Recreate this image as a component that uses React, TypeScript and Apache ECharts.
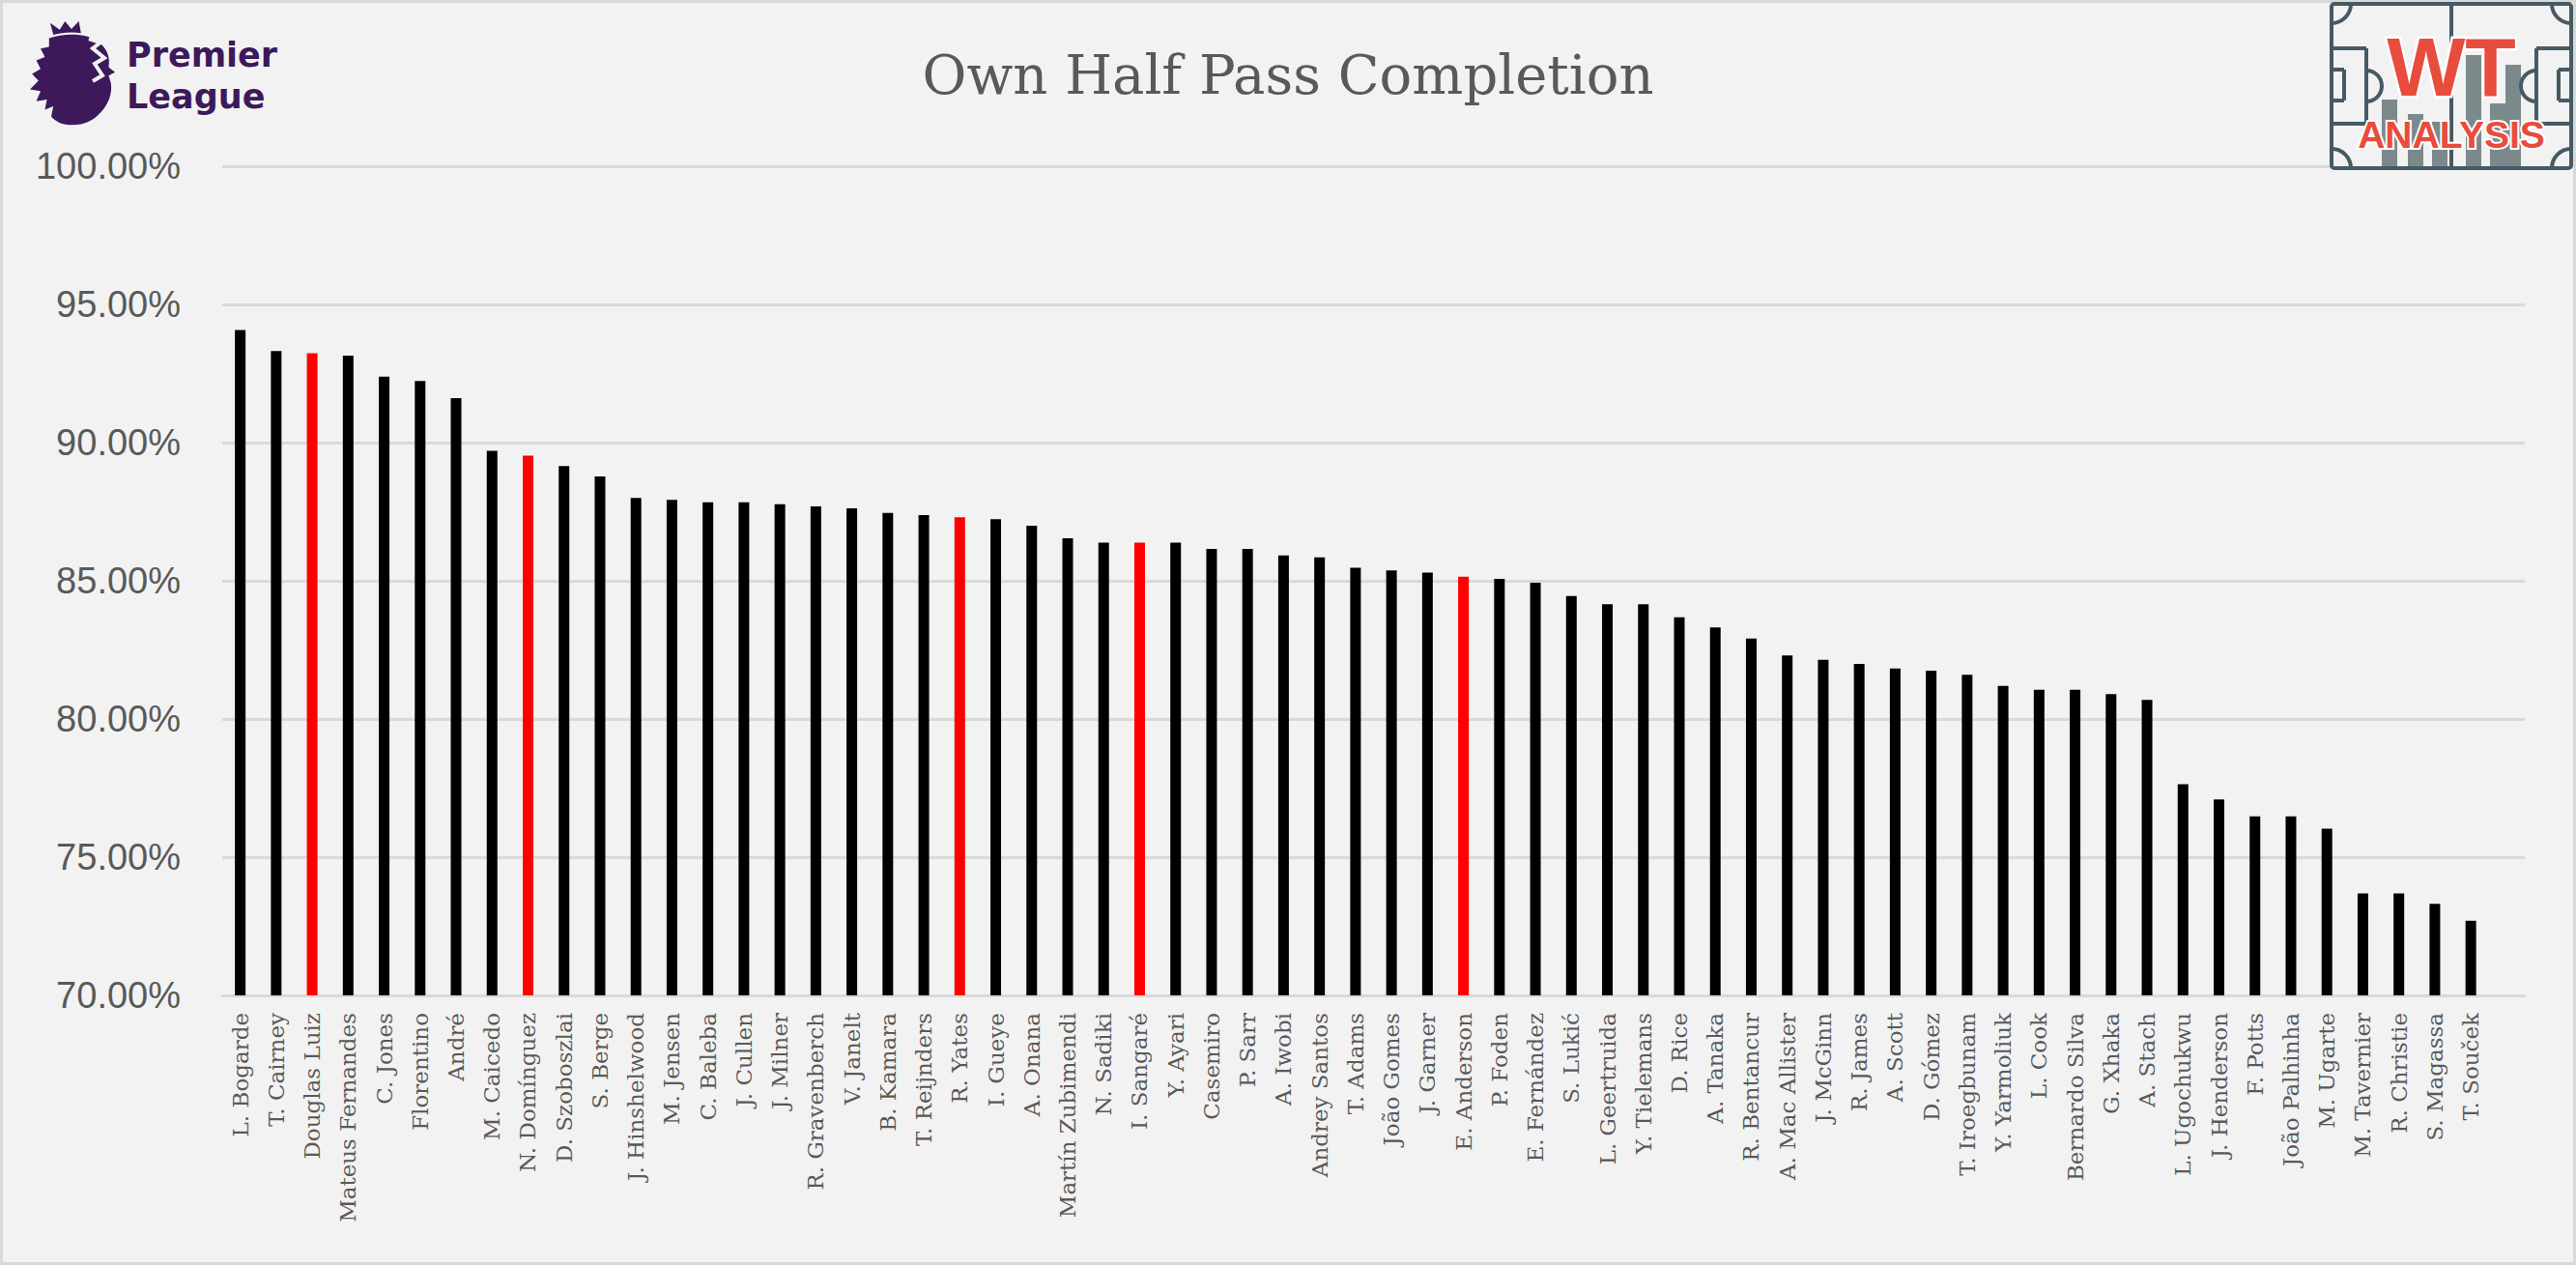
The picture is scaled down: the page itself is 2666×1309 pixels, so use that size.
import { useEffect, useRef } from 'react';
import * as echarts from 'echarts';

// players, sorted as in the picture
const players = [
    'L. Bogarde', 'T. Cairney', 'Douglas Luiz', 'Mateus Fernandes', 'C. Jones', 'Florentino', 'André',
    'M. Caicedo', 'N. Domínguez', 'D. Szoboszlai', 'S. Berge', 'J. Hinshelwood', 'M. Jensen', 'C. Baleba',
    'J. Cullen', 'J. Milner', 'R. Gravenberch', 'V. Janelt', 'B. Kamara', 'T. Reijnders', 'R. Yates',
    'I. Gueye', 'A. Onana', 'Martín Zubimendi', 'N. Sadiki', 'I. Sangaré', 'Y. Ayari', 'Casemiro',
    'P. Sarr', 'A. Iwobi', 'Andrey Santos', 'T. Adams', 'João Gomes', 'J. Garner', 'E. Anderson',
    'P. Foden', 'E. Fernández', 'S. Lukić', 'L. Geertruida', 'Y. Tielemans', 'D. Rice', 'A. Tanaka',
    'R. Bentancur', 'A. Mac Allister', 'J. McGinn', 'R. James', 'A. Scott', 'D. Gómez', 'T. Iroegbunam',
    'Y. Yarmoliuk', 'L. Cook', 'Bernardo Silva', 'G. Xhaka', 'A. Stach', 'L. Ugochukwu', 'J. Henderson',
    'F. Potts', 'João Palhinha', 'M. Ugarte', 'M. Tavernier', 'R. Christie', 'S. Magassa', 'T. Souček',
];

// own half pass completion, %
const completion = [
    94.07, 93.31, 93.23, 93.15, 92.39, 92.23, 91.61,
    89.70, 89.53, 89.15, 88.78, 88.00, 87.93, 87.84,
    87.84, 87.77, 87.69, 87.62, 87.46, 87.38, 87.30,
    87.23, 86.99, 86.54, 86.38, 86.38, 86.38, 86.15,
    86.15, 85.92, 85.85, 85.47, 85.38, 85.30, 85.15,
    85.07, 84.93, 84.45, 84.15, 84.15, 83.68, 83.31,
    82.91, 82.30, 82.14, 81.99, 81.83, 81.75, 81.60,
    81.20, 81.06, 81.06, 80.90, 80.69, 77.64, 77.09,
    76.48, 76.48, 76.03, 73.69, 73.69, 73.31, 72.70,
];

const highlighted = ['Douglas Luiz', 'N. Domínguez', 'R. Yates', 'I. Sangaré', 'E. Anderson'];

const yMin = 70;
const yMax = 100;
const yStep = 5;

const lionPath =
    'M18 20 C32 14 50 14 62 22 C72 30 76 42 74 54 L80 60 L74 64 L76 72 C78 84 74 98 66 108 ' +
    'C60 116 52 122 40 122 C30 122 24 118 20 112 L22 100 L14 104 L16 92 L6 94 L10 82 L0 80 ' +
    'L8 70 L2 62 L10 56 L6 46 L14 42 L10 32 L18 30 Z ' +
    'M22 16 L19 2 L28 10 L33 0 L39 9 L46 0 L48 14 C40 12 30 13 22 16 Z';

echarts.graphic.registerShape('plLion', echarts.graphic.extendPath(lionPath, {}));

const slate = '#455a64';
const wtRed = '#e84c3d';
const wtGrey = '#7b898d';

function wtLogo() {
    const x0 = 2413, y0 = 4, x1 = 2661, y1 = 174;
    const cy = (y0 + y1) / 2;
    const line = (ax: number, ay: number, bx: number, by: number) => ({
        type: 'line', shape: { x1: ax, y1: ay, x2: bx, y2: by },
        style: { stroke: slate, lineWidth: 4 }, z: 11,
    });
    const arc = (cx: number, cyy: number, r: number, a0: number, a1: number) => ({
        type: 'arc', shape: { cx, cy: cyy, r, startAngle: a0, endAngle: a1 },
        style: { stroke: slate, lineWidth: 4, fill: 'none' }, z: 11,
    });
    const bars = [
        [2465, 103], [2492, 118], [2517, 126], [2552, 57], [2577, 107], [2593, 67],
    ];
    const PI = Math.PI;
    return [
        { type: 'rect', shape: { x: x0, y: y0, width: x1 - x0, height: y1 - y0, r: 3 }, style: { fill: '#f2f2f2', stroke: slate, lineWidth: 4 }, z: 10 },
        ...bars.map(([bx, by]) => ({
            type: 'rect', shape: { x: bx, y: by, width: 16, height: y1 - by - 2 }, style: { fill: wtGrey }, z: 11,
        })),
        line(2537, y0, 2537, y1),
        // penalty boxes
        line(x0, 50, 2449, 50), line(2449, 50, 2449, 128), line(x0, 128, 2449, 128),
        line(x0, 72, 2426, 72), line(2426, 72, 2426, 104), line(x0, 104, 2426, 104),
        line(2625, 50, x1, 50), line(2625, 50, 2625, 128), line(2625, 128, x1, 128),
        line(2648, 72, x1, 72), line(2648, 72, 2648, 104), line(2648, 104, x1, 104),
        arc(2449, cy, 16, -PI / 2, PI / 2),
        arc(2625, cy, 16, PI / 2, PI * 1.5),
        // corners
        arc(x0, y0, 20, 0, PI / 2),
        arc(x1, y0, 20, PI / 2, PI),
        arc(x0, y1, 20, -PI / 2, 0),
        arc(x1, y1, 20, PI, PI * 1.5),
        {
            type: 'text', z: 12,
            style: {
                text: 'WT', x: 2537, y: 69, align: 'center', verticalAlign: 'middle',
                font: 'bold 86px "Liberation Sans"', fill: wtRed, stroke: '#ffffff', lineWidth: 5,
            },
        },
        {
            type: 'text', z: 12,
            style: {
                text: 'ANALYSIS', x: 2537, y: 139, align: 'center', verticalAlign: 'middle',
                font: 'bold 39px "Liberation Sans"', fill: wtRed, stroke: '#ffffff', lineWidth: 4,
            },
        },
    ];
}

export default function App() {
    const chartRef = useRef<HTMLDivElement>(null);

    useEffect(() => {
        document.body.style.margin = '0';
        if (!chartRef.current) return;
        const chart = echarts.init(chartRef.current, null, { renderer: 'svg' });

        const option = {
            animation: false,
            backgroundColor: '#f2f2f2',
            grid: { left: 230, right: 53, top: 172, bottom: 279, containLabel: false },
            xAxis: {
                type: 'category',
                // trailing empty slot, as in the original sheet
                data: [...players, ''],
                axisLine: { lineStyle: { color: '#d9d9d9', width: 3 } },
                axisTick: { show: false },
                axisLabel: {
                    interval: 0,
                    rotate: 90,
                    margin: 18,
                    color: '#595959',
                    fontFamily: 'DejaVu Serif',
                    fontSize: 23,
                },
            },
            yAxis: {
                type: 'value',
                min: yMin,
                max: yMax,
                interval: yStep,
                axisLine: { show: false },
                axisTick: { show: false },
                splitLine: { lineStyle: { color: '#d9d9d9', width: 3 } },
                axisLabel: {
                    margin: 43,
                    color: '#595959',
                    fontFamily: 'Liberation Sans',
                    fontSize: 38,
                    formatter: (v: number) => v.toFixed(2) + '%',
                },
            },
            series: [{
                type: 'bar',
                barWidth: 11,
                data: completion.map((v, i) => ({
                    value: v,
                    itemStyle: { color: highlighted.includes(players[i]) ? '#ff0000' : '#000000' },
                })),
            }],
            graphic: [
                { type: 'rect', shape: { x: 1.5, y: 1.5, width: 2663, height: 1306 }, style: { fill: 'none', stroke: '#d9d9d9', lineWidth: 3 }, z: 1 },
                {
                    type: 'text',
                    style: { text: 'Own Half Pass Completion', x: 1333, y: 77, align: 'center', verticalAlign: 'middle', font: '56px "DejaVu Serif"', fill: '#595959' },
                },
                { type: 'plLion', x: 31, y: 22, scaleX: 1.1, scaleY: 0.88, style: { fill: '#3d195b' } },
                {
                    type: 'polyline', shape: { points: [[92, 40], [104, 44], [96, 50], [108, 60], [98, 66], [106, 78], [96, 84]] },
                    style: { stroke: '#f2f2f2', lineWidth: 4, fill: 'none' },
                },
                {
                    type: 'text',
                    style: { text: 'Premier', x: 131, y: 57, verticalAlign: 'middle', font: 'bold 35px "DejaVu Sans"', fill: '#3d195b' },
                },
                {
                    type: 'text',
                    style: { text: 'League', x: 131, y: 100, verticalAlign: 'middle', font: 'bold 35px "DejaVu Sans"', fill: '#3d195b' },
                },
                ...wtLogo(),
            ],
        };

        chart.setOption(option as any);

        return () => {
            chart.dispose();
        };
    }, []);

    return <div ref={chartRef} style={{ width: '2666px', height: '1309px' }} />;
}
